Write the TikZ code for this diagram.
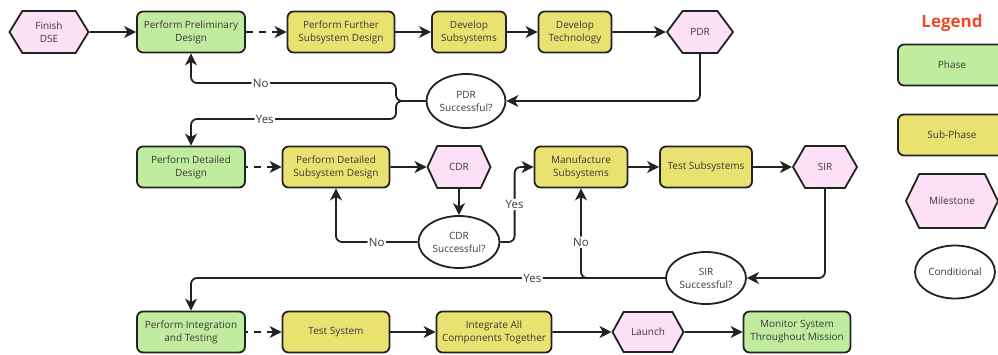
\documentclass[tikz,border=0pt]{standalone}
\usepackage{fontspec}
\setmainfont{Open Sans}
\usetikzlibrary{arrows.meta,positioning,shapes.geometric,shapes.symbols}
\definecolor{phasegreen}{HTML}{C0EC9F}
\definecolor{subyellow}{HTML}{EAE270}
\definecolor{milepink}{HTML}{FCE0F6}
\definecolor{linegray}{HTML}{222222}
\definecolor{textgray}{HTML}{3A3A3A}
\definecolor{legendred}{HTML}{F04A28}

\begin{document}
\begin{tikzpicture}[x=1pt,y=-1pt,>={Stealth[length=12pt,width=12pt,inset=3.5pt]},
  every node/.style={text=textgray,font=\fontsize{10}{13}\selectfont,align=center},
  box/.style={draw=linegray,line width=1.8pt,rounded corners=6pt,minimum height=41pt,inner sep=2pt},
  phase/.style={box,fill=phasegreen},
  subphase/.style={box,fill=subyellow},
  milestone/.style={draw=linegray,line width=1.8pt,fill=milepink,signal,signal to=west and east,
    signal pointer angle=120,minimum height=42pt,inner sep=1pt},
  decision/.style={draw=linegray,line width=1.8pt,fill=white,ellipse,inner sep=0pt},
  flow/.style={draw=linegray,line width=1.8pt,->,rounded corners=6pt},
  later/.style={flow,dash pattern=on 7pt off 6pt},
  answer/.style={fill=white,font=\fontsize{11.5}{13}\selectfont,inner sep=1.5pt}]
\useasboundingbox (0,0) rectangle (998,354);

\node[milestone,minimum width=79pt,signal pointer angle=117] (dse) at (49,32) {Finish\\DSE};
\node[phase,minimum width=108pt] (prelim) at (191,32) {Perform Preliminary\\Design}
    edge[flow,<-] (dse);
\node[subphase,minimum width=107pt] (further) at (341,32) {Perform Further\\Subsystem Design}
    edge[later,<-] (prelim);
\node[subphase,minimum width=74pt] (devsub) at (469,32) {Develop\\Subsystems}
    edge[flow,<-] (further);
\node[subphase,minimum width=73pt] (devtech) at (575,32) {Develop\\Technology}
    edge[flow,<-] (devsub);
\node[milestone,minimum width=66pt,signal pointer angle=107] (pdr) at (700,32) {PDR}
    edge[flow,<-] (devtech);
\node[decision,minimum width=79pt,minimum height=54pt] (pdrq) at (466,101) {PDR\\Successful?};

\node[phase,minimum width=108pt] (detail) at (191,167) {Perform Detailed\\Design};
\node[subphase,minimum width=107pt] (dsub) at (336,167) {Perform Detailed\\Subsystem Design}
    edge[later,<-] (detail);
\node[milestone,minimum width=63pt,signal pointer angle=130] (cdr) at (459,167) {CDR}
    edge[flow,<-] (dsub);
\node[decision,minimum width=81pt,minimum height=52pt] (cdrq) at (459,242) {CDR\\Successful?};
\node[subphase,minimum width=93pt] (manuf) at (581,167) {Manufacture\\Subsystems};
\node[subphase,minimum width=92pt] (tsub) at (706,167) {Test Subsystems}
    edge[flow,<-] (manuf);
\node[milestone,minimum width=64pt] (sir) at (825,167) {SIR}
    edge[flow,<-] (tsub);
\node[decision,minimum width=80pt,minimum height=52pt] (sirq) at (706,278) {SIR\\Successful?};

\node[phase,minimum width=108pt] (integ) at (191,332) {Perform Integration\\and Testing};
\node[subphase,minimum width=107pt] (tsys) at (336,332) {Test System}
    edge[later,<-] (integ);
\node[subphase,minimum width=115pt] (intall) at (494,332) {Integrate All\\Components Together}
    edge[flow,<-] (tsys);
\node[milestone,minimum width=71pt,minimum height=40pt,signal pointer angle=122] (launch) at (648,332) {Launch}
    edge[flow,<-] (intall);
\node[phase,minimum width=107pt] (monitor) at (797,332) {Monitor System\\Throughout Mission}
    edge[flow,<-] (launch);

\coordinate (pdrsplit) at (396,101);
\coordinate (pdrno) at (396,83);
\coordinate (pdryes) at (396,119);
\draw[flow] (pdr.south) |- (pdrq.east);
\draw[flow] (pdrq.west) -- (pdrsplit) -- (pdrno) -| node[answer,pos=0.33] {No} (prelim.south);
\draw[flow] (pdrq.west) -- (pdrsplit) -- (pdryes) -| node[answer,pos=0.32] {Yes} (detail.north);

\draw[flow] (cdr.south) -- (cdrq.north);
\draw[flow] (cdrq.west) -| node[answer,pos=0.25] {No} (dsub.south);
\draw[flow] (cdrq.east) -| node[answer,pos=0.75] {Yes} ([xshift=-19pt]manuf.west) -- (manuf.west);

\draw[flow] (sir.south) |- (sirq.east);
\draw[flow] (sirq.west) -| node[answer,pos=0.7] {No} (manuf.south);
\draw[flow] (sirq.west) -| node[answer,pos=0.14] {Yes} (integ.north);

\node[text=legendred,font=\fontsize{17}{20}\selectfont\bfseries] (legend) at (952,23) {Legend};
\node[phase,minimum width=108pt] (keyphase) at (952,65) {Phase};
\node[subphase,minimum width=108pt] (keysub) at (952,135) {Sub-Phase};
\node[milestone,minimum width=92pt,minimum height=54pt,signal pointer angle=128] (keymile) at (952,201) {Milestone};
\node[decision,minimum width=80pt,minimum height=53pt] (keycond) at (955,272) {Conditional};
\end{tikzpicture}
\end{document}
